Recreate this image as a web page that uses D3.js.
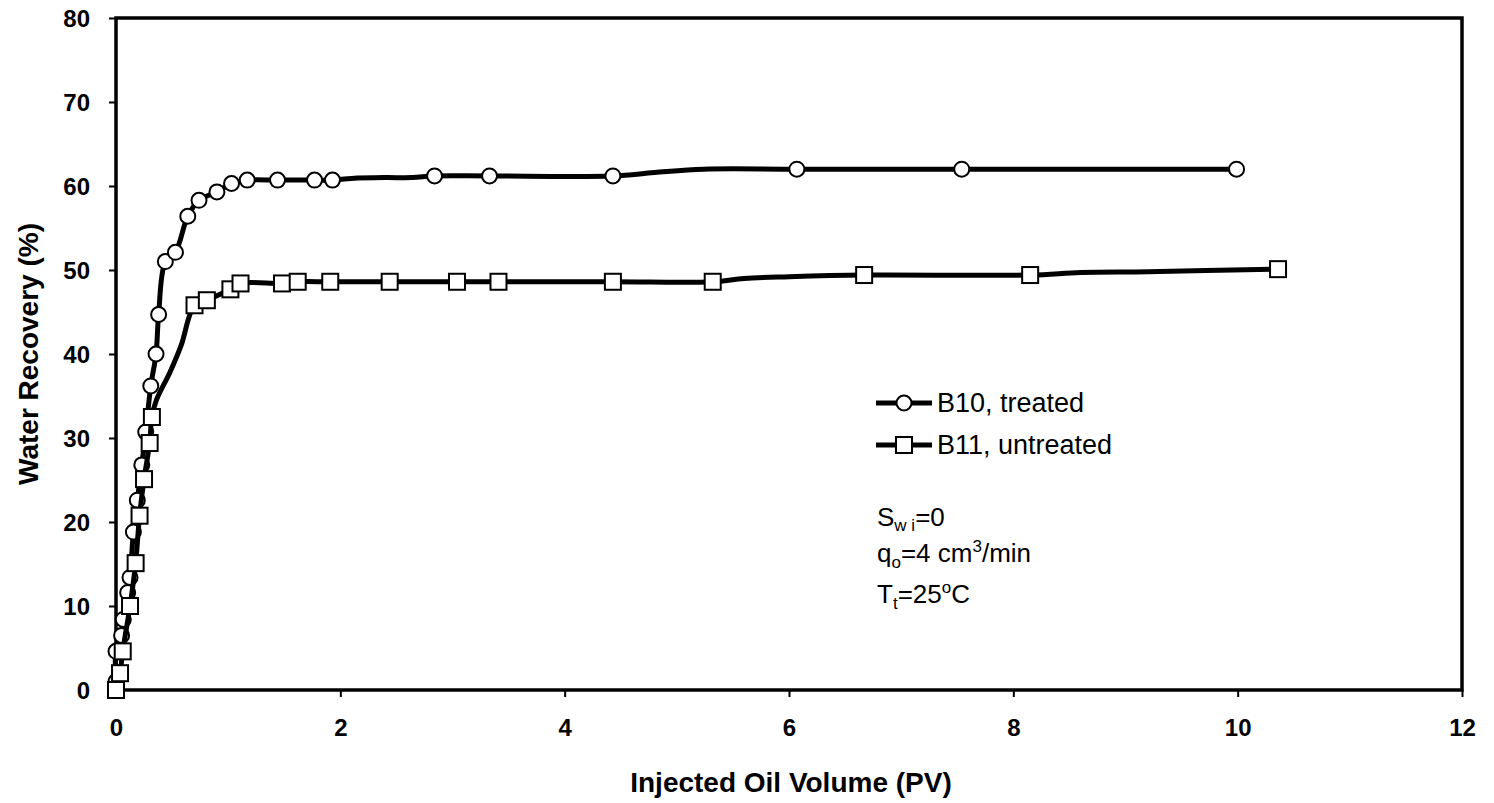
<!DOCTYPE html>
<html><head><meta charset="utf-8">
<script src="https://cdn.jsdelivr.net/npm/d3@7"></script>
<style>body{margin:0;background:#fff}svg{display:block}text{font-family:"Liberation Sans",Arial,sans-serif}</style>
</head><body>
<svg id="c" width="1494" height="803"></svg>
<script>
// B10, treated: marker points
const b10X = [0.0, 0.0, 0.05, 0.065, 0.104, 0.125, 0.155, 0.19, 0.23, 0.265, 0.31, 0.357, 0.38, 0.44, 0.53, 0.64, 0.74, 0.90, 1.03, 1.17, 1.44, 1.77, 1.93, 2.84, 3.33, 4.43, 6.07, 7.54, 9.99];
const b10Y = [1.0, 4.6, 6.5, 8.4, 11.6, 13.4, 18.8, 22.6, 26.8, 30.7, 36.2, 40.0, 44.7, 51.0, 52.1, 56.4, 58.3, 59.3, 60.3, 60.7, 60.7, 60.7, 60.7, 61.2, 61.2, 61.2, 62.0, 62.0, 62.0];
// B10 line (includes unmarked intermediate readings)
const b10LineX = [0.0, 0.0, 0.05, 0.065, 0.104, 0.125, 0.155, 0.19, 0.23, 0.265, 0.31, 0.357, 0.38, 0.44, 0.53, 0.64, 0.74, 0.90, 1.03, 1.17, 1.44, 1.77, 1.93, 2.1, 2.4, 2.64, 2.84, 3.33, 4.43, 4.8, 5.24, 6.07, 7.54, 9.99];
const b10LineY = [1.0, 4.6, 6.5, 8.4, 11.6, 13.4, 18.8, 22.6, 26.8, 30.7, 36.2, 40.0, 44.7, 51.0, 52.1, 56.4, 58.3, 59.3, 60.3, 60.7, 60.7, 60.7, 60.7, 60.9, 61.0, 61.0, 61.2, 61.2, 61.2, 61.6, 62.0, 62.0, 62.0, 62.0];
// B11, untreated: marker points
const b11X = [0.0, 0.036, 0.06, 0.125, 0.175, 0.21, 0.25, 0.30, 0.32, 0.70, 0.81, 1.02, 1.11, 1.48, 1.62, 1.91, 2.44, 3.04, 3.41, 4.43, 5.32, 6.67, 8.15, 10.36];
const b11Y = [0.0, 2.0, 4.6, 10.0, 15.1, 20.75, 25.1, 29.4, 32.5, 45.8, 46.4, 47.7, 48.4, 48.4, 48.6, 48.6, 48.6, 48.6, 48.6, 48.6, 48.6, 49.4, 49.4, 50.1];
// B11 line (includes unmarked intermediate readings)
const b11LineX = [0.0, 0.036, 0.06, 0.125, 0.175, 0.21, 0.25, 0.30, 0.32, 0.36, 0.48, 0.58, 0.70, 0.81, 1.02, 1.11, 1.48, 1.62, 1.91, 2.44, 3.04, 3.41, 4.43, 5.32, 5.6, 6.0, 6.67, 8.15, 8.6, 9.2, 10.36];
const b11LineY = [0.0, 2.0, 4.6, 10.0, 15.1, 20.75, 25.1, 29.4, 32.5, 34.5, 37.8, 41.0, 45.8, 46.4, 47.7, 48.4, 48.4, 48.6, 48.6, 48.6, 48.6, 48.6, 48.6, 48.6, 49.0, 49.2, 49.4, 49.4, 49.7, 49.8, 50.1];

const xTicks = [0, 2, 4, 6, 8, 10, 12];
const yTicks = [0, 10, 20, 30, 40, 50, 60, 70, 80];
const seriesNames = ["B10, treated", "B11, untreated"];
const xTitle = "Injected Oil Volume (PV)";
const yTitle = "Water Recovery (%)";

const svg = d3.select("#c");
const L = 116, R = 1462, T = 18, B = 690;
const x = d3.scaleLinear().domain([0, 12]).range([L, R]);
const y = d3.scaleLinear().domain([0, 80]).range([B, T]);

// frame
svg.append("rect").attr("x", L).attr("y", T).attr("width", R - L).attr("height", B - T)
  .attr("fill", "none").attr("stroke", "#000").attr("stroke-width", 3.5);

// axes
const xAxis = svg.append("g").attr("transform", `translate(0,${B})`)
  .call(d3.axisBottom(x).tickValues(xTicks).tickSize(7).tickPadding(22).tickFormat(d3.format("d")));
const yAxis = svg.append("g").attr("transform", `translate(${L},0)`)
  .call(d3.axisLeft(y).tickValues(yTicks).tickSize(7).tickPadding(19).tickFormat(d3.format("d")));
[xAxis, yAxis].forEach(g => {
  g.attr("font-size", null).attr("font-family", null);
  g.select(".domain").remove();
  g.selectAll(".tick line").attr("stroke", "#000").attr("stroke-width", 2);
  g.selectAll(".tick text").attr("fill", "#000").style("font-size", "24px").style("font-weight", "bold")
    .style("font-family", '"Liberation Sans",Arial,sans-serif');
});
yAxis.selectAll(".tick text").attr("dy", "0.36em");

// titles
svg.append("text").attr("x", (L + R) / 2 + 2).attr("y", 792).attr("text-anchor", "middle")
  .style("font-size", "28px").style("font-weight", "bold").text(xTitle);
svg.append("text").attr("transform", `translate(38,${(T + B) / 2}) rotate(-90)`).attr("text-anchor", "middle")
  .style("font-size", "28px").style("font-weight", "bold").text(yTitle);

const line = d3.line().x(d => x(d[0])).y(d => y(d[1])).curve(d3.curveCatmullRom.alpha(0.5));
const b10Line = b10LineX.map((v, i) => [v, b10LineY[i]]);
const b11Line = b11LineX.map((v, i) => [v, b11LineY[i]]);
const b10Pts = b10X.map((v, i) => [v, b10Y[i]]);
const b11Pts = b11X.map((v, i) => [v, b11Y[i]]);

const plot = svg.append("g");
plot.append("path").datum(b10Line).attr("d", line).attr("fill", "none").attr("stroke", "#000").attr("stroke-width", 5);
plot.selectAll(".c").data(b10Pts).enter().append("circle")
  .attr("cx", d => x(d[0])).attr("cy", d => y(d[1])).attr("r", 7.5)
  .attr("fill", "#fff").attr("stroke", "#000").attr("stroke-width", 2);
plot.append("path").datum(b11Line).attr("d", line).attr("fill", "none").attr("stroke", "#000").attr("stroke-width", 5);
const s = 16;
plot.selectAll(".s").data(b11Pts).enter().append("rect")
  .attr("x", d => x(d[0]) - s / 2).attr("y", d => y(d[1]) - s / 2).attr("width", s).attr("height", s)
  .attr("fill", "#fff").attr("stroke", "#000").attr("stroke-width", 2);

// legend
const lg = svg.append("g");
const legY = [403, 445];
legY.forEach((ly, i) => {
  lg.append("line").attr("x1", 876).attr("x2", 932).attr("y1", ly).attr("y2", ly).attr("stroke", "#000").attr("stroke-width", 5);
  if (i === 0) lg.append("circle").attr("cx", 904).attr("cy", ly).attr("r", 7.5).attr("fill", "#fff").attr("stroke", "#000").attr("stroke-width", 2);
  else lg.append("rect").attr("x", 904 - s / 2).attr("y", ly - s / 2).attr("width", s).attr("height", s).attr("fill", "#fff").attr("stroke", "#000").attr("stroke-width", 2);
  lg.append("text").attr("x", 937).attr("y", ly + 9).style("font-size", "27px").text(seriesNames[i]);
});

// annotations
const ann = svg.append("g").style("font-size", "26px");
const t1 = ann.append("text").attr("x", 877).attr("y", 526);
t1.append("tspan").text("S");
t1.append("tspan").attr("dy", 5).style("font-size", "17px").text("w i");
t1.append("tspan").attr("dy", -5).text("=0");
const t2 = ann.append("text").attr("x", 877).attr("y", 562);
t2.append("tspan").text("q");
t2.append("tspan").attr("dy", 6).style("font-size", "17px").text("o");
t2.append("tspan").attr("dy", -6).text("=4 cm");
t2.append("tspan").attr("dy", -10).style("font-size", "17px").text("3");
t2.append("tspan").attr("dy", 10).text("/min");
const t3 = ann.append("text").attr("x", 877).attr("y", 603);
t3.append("tspan").text("T");
t3.append("tspan").attr("dy", 6).style("font-size", "17px").text("t");
t3.append("tspan").attr("dy", -6).text("=25");
t3.append("tspan").attr("dy", -10).style("font-size", "17px").text("o");
t3.append("tspan").attr("dy", 10).text("C");
</script>
</body></html>
